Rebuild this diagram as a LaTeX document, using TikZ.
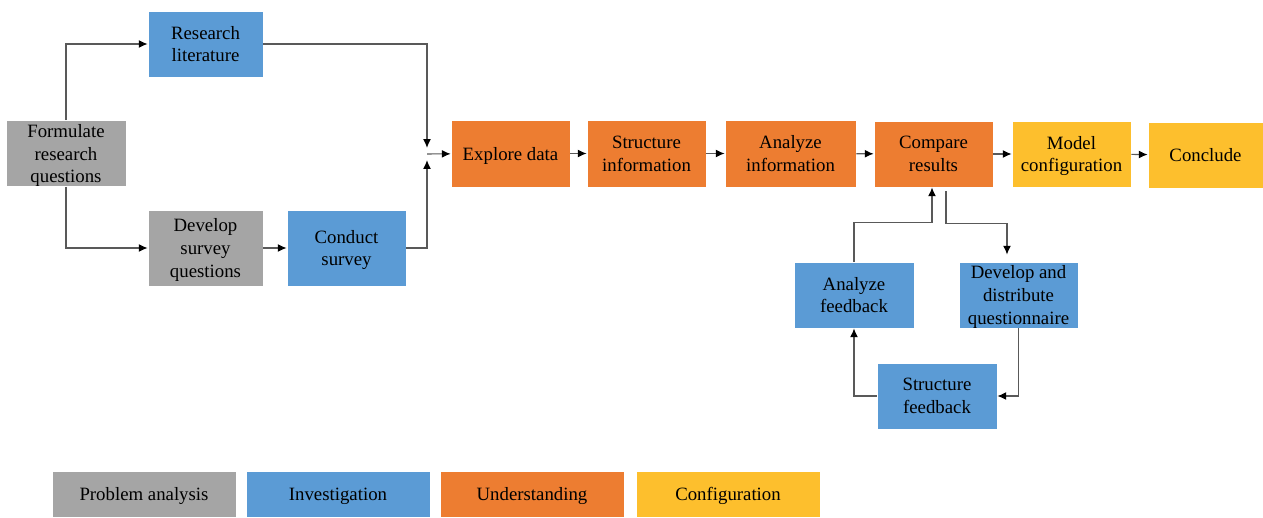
\documentclass[tikz,border=0pt]{standalone}
\usepackage{fontspec}
\setmainfont{Liberation Serif}
\usepackage{tikz}
\usetikzlibrary{arrows.meta,calc}
\definecolor{probgray}{HTML}{A5A5A5}
\definecolor{invblue}{HTML}{5B9BD5}
\definecolor{undorange}{HTML}{ED7D31}
\definecolor{confgold}{HTML}{FDBF2D}
\tikzset{
  box/.style={draw=white,line width=0.5pt,inner sep=0pt,align=center,text depth=0pt,
    font=\fontsize{10.7}{13}\selectfont,minimum width=2.38cm,minimum height=1.32cm},
  prob/.style={box,fill=probgray},
  inv/.style={box,fill=invblue},
  und/.style={box,fill=undorange},
  conf/.style={box,fill=confgold},
  legendbox/.style={minimum width=3.68cm,minimum height=0.92cm},
  arr/.style={draw=black!65,line width=0.6pt,-{Latex[length=5pt,width=4.5pt,black]}}
}
\begin{document}
\begin{tikzpicture}[x=0.02cm,y=-0.02cm]
\useasboundingbox (0,0) rectangle (1263,517);

%problem analysis and investigation
\node[prob,minimum width=2.4cm] (fq) at (66,153.5) {Formulate\\research\\questions};
\node[inv,minimum width=2.3cm] (lit) at (205.5,44) {Research\\literature};
\node[prob,minimum width=2.3cm,minimum height=1.52cm] (dsq) at (205.5,248) {Develop\\survey\\questions};
\node[inv,minimum height=1.52cm] (cs) at (346.5,248) {Conduct\\survey};
\coordinate (mrg) at (427,154);

%main chain
\node[und,minimum height=1.34cm] (ed) at (510.5,153.5) {Explore data};
\node[und,minimum height=1.34cm] (si) at (646.5,153.5) {Structure\\information};
\node[und,minimum width=2.62cm,minimum height=1.34cm] (ai) at (790.5,153.5) {Analyze\\information};
\node[und] (cr) at (933.5,154) {Compare\\results};
\node[conf] (mc) at (1071.5,154) {Model\\configuration};
\node[conf,minimum width=2.3cm] (con) at (1205.5,155) {Conclude};

%feedback loop
\node[inv,minimum width=2.4cm] (afb) at (854,295) {Analyze\\feedback};
\node[inv] (dq) at (1018.5,295) {Develop and\\distribute\\questionnaire};
\node[inv,minimum width=2.4cm] (sfb) at (937,396) {Structure\\feedback};

%legend
\node[prob,legendbox] (lg1) at (144,494) {Problem analysis};
\node[inv,legendbox] (lg2) at (338,494) {Investigation};
\node[und,legendbox] (lg3) at (532,494) {Understanding};
\node[conf,legendbox] (lg4) at (728,494) {Configuration};

%arrows
\draw[arr] (fq.north) |- (lit.west);
\draw[arr] (fq.south) |- (dsq.west);
\draw[arr] (dsq) -- (cs);
\draw[arr,shorten >=3.5pt] (lit.east) -| (mrg);
\draw[arr,shorten >=3.5pt] (cs.east) -| (mrg);
\draw[arr] (mrg) -- (ed);
\draw[arr] (ed) -- (si);
\draw[arr] (si) -- (ai);
\draw[arr] (ai) -- (cr);
\draw[arr] (cr) -- (mc);
\draw[arr] (mc) -- (con);
\draw[arr] (afb.north) -- ++(0,-39) -| ([xshift=-0.03cm]cr.south);
\draw[arr,shorten >=4pt] ([xshift=0.25cm,yshift=-0.08cm]cr.south) -- ++(0,32) -| ([xshift=-0.23cm]dq.north);
\draw[arr] (dq.south) |- (sfb.east);
\draw[arr] (sfb.west) -| (afb.south);
\end{tikzpicture}
\end{document}
